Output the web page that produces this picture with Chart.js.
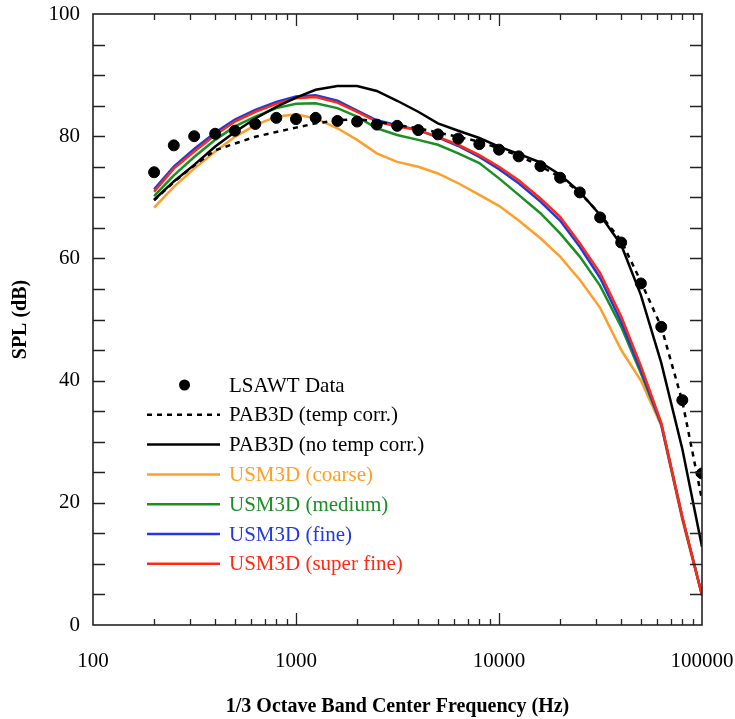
<!DOCTYPE html>
<html lang="en">
  <head>
    <meta charset="utf-8">
    <title>SPL spectrum</title>
    <script src="https://cdn.jsdelivr.net/npm/chart.js@4.4.1/dist/chart.umd.min.js"></script>
    <style>
      body { margin: 0; background: #fff; }
      #wrap { width: 735px; height: 719px; }
    </style>
  </head>
  <body>
    <div id="wrap"><canvas id="splChart" width="735" height="719"></canvas></div>
  <script>
  // 1/3 octave band centres (Hz)
  var freqs = [200, 250, 315, 400, 500, 630, 800, 1000, 1250, 1600, 2000, 2500, 3150, 4000,
               5000, 6300, 8000, 10000, 12500, 16000, 20000, 25000, 31500, 40000, 50000, 63000, 80000, 100000];

  var lsawt     = [74.1, 78.5, 80.0, 80.4, 80.9, 82.0, 83.0, 82.8, 83.0, 82.5, 82.4, 81.9, 81.7, 81.0,
                   80.3, 79.6, 78.7, 77.8, 76.7, 75.1, 73.2, 70.8, 66.7, 62.6, 55.9, 48.8, 36.8, 24.8];
  var pabTemp   = [69.5, 72.5, 75.2, 77.7, 78.8, 79.9, 80.7, 81.4, 82.1, 82.6, 82.8, 82.4, 81.8, 81.3,
                   80.6, 79.9, 79.1, 78.0, 76.8, 75.1, 73.3, 70.8, 67.2, 62.9, 56.2, 48.8, 36.6, 20.5];
  var pabNoTemp = [69.6, 72.6, 75.3, 78.3, 80.7, 82.9, 84.8, 86.3, 87.6, 88.2, 88.2, 87.4, 85.8, 84.0,
                   82.1, 80.9, 79.7, 78.3, 77.1, 75.7, 73.7, 70.9, 67.1, 62.2, 54.0, 42.9, 28.8, 12.8];
  var usmCoarse = [68.3, 71.7, 74.7, 77.5, 79.9, 81.8, 83.2, 83.6, 82.9, 81.3, 79.4, 77.2, 75.8, 75.0,
                   73.9, 72.3, 70.4, 68.6, 66.2, 63.3, 60.3, 56.5, 51.9, 45.0, 40.0, 32.6, 17.2, 4.8];
  var usmMedium = [70.2, 73.6, 76.6, 79.4, 81.6, 83.2, 84.6, 85.3, 85.4, 84.6, 83.2, 81.3, 80.2, 79.4,
                   78.6, 77.2, 75.6, 73.1, 70.4, 67.4, 64.1, 60.3, 55.5, 48.8, 41.2, 32.9, 17.5, 4.9];
  var usmFine   = [71.3, 75.0, 77.9, 80.6, 82.7, 84.3, 85.6, 86.5, 86.7, 85.8, 84.2, 82.6, 81.8, 81.0,
                   79.8, 78.4, 76.6, 74.6, 72.3, 69.3, 66.2, 61.9, 56.8, 49.6, 41.7, 32.8, 17.6, 4.9];
  var usmSuper  = [70.9, 74.7, 77.5, 80.2, 82.4, 84.0, 85.3, 86.2, 86.4, 85.5, 84.0, 82.4, 81.6, 81.0,
                   79.9, 78.6, 76.9, 75.0, 72.8, 69.8, 66.8, 62.5, 57.6, 50.5, 42.4, 33.1, 17.7, 4.9];

  var xLabels = [100, 1000, 10000, 100000];
  var yLabels = [0, 20, 40, 60, 80, 100];

  function pts(ys){
    var out = [];
    for(var i = 0; i < freqs.length; ++i){
      out.push({x: freqs[i], y: ys[i]});
    }
    return out;
  }

  var serif = "'Liberation Serif', 'Times New Roman', serif";

  // inside tick marks on all four sides + frame
  var frameTicks = {
    id: 'frameTicks',
    afterDraw: function(chart){
      var ctx = chart.ctx, a = chart.chartArea;
      var xs = chart.scales.x, ys = chart.scales.y;
      ctx.save();
      ctx.strokeStyle = '#222';
      ctx.lineWidth = 1.3;
      ctx.beginPath();
      for(var v = 5; v < 100; v += 5){
        var py = Math.round(ys.getPixelForValue(v)) + 0.5;
        ctx.moveTo(a.left, py); ctx.lineTo(a.left + 12, py);
        ctx.moveTo(a.right, py); ctx.lineTo(a.right - 12, py);
      }
      for(var d = 100; d < 100000; d *= 10){
        for(var m = 1; m <= 9; ++m){
          if(d === 100 && m === 1) continue;
          var px = Math.round(xs.getPixelForValue(m * d)) + 0.5;
          var len = (m === 1) ? 12 : 6;
          ctx.moveTo(px, a.bottom); ctx.lineTo(px, a.bottom - len);
          ctx.moveTo(px, a.top); ctx.lineTo(px, a.top + len);
        }
      }
      ctx.stroke();
      ctx.lineWidth = 1.6;
      ctx.strokeRect(a.left, a.top, a.right - a.left, a.bottom - a.top);
      ctx.restore();
    }
  };

  // legend drawn inside the plot, lower left
  var innerLegend = {
    id: 'innerLegend',
    afterDatasetsDraw: function(chart){
      var ctx = chart.ctx;
      var sets = chart.data.datasets;
      var x0 = 147, x1 = 220, tx = 229, y = 385, step = 29.8;
      ctx.save();
      ctx.font = "21px " + serif;
      ctx.textBaseline = 'middle';
      ctx.textAlign = 'left';
      for(var i = 0; i < sets.length; ++i){
        var s = sets[i];
        if(s.showLine === false){
          ctx.fillStyle = s.pointBackgroundColor;
          ctx.beginPath();
          ctx.arc((x0 + x1) / 2 + 1, y, 5.5, 0, Math.PI * 2);
          ctx.fill();
        } else {
          ctx.strokeStyle = s.borderColor;
          ctx.lineWidth = s.borderWidth;
          ctx.setLineDash(s.borderDash || []);
          ctx.beginPath();
          ctx.moveTo(x0, y); ctx.lineTo(x1, y);
          ctx.stroke();
          ctx.setLineDash([]);
        }
        ctx.fillStyle = s.textColor;
        ctx.fillText(s.label, tx, y + 1);
        y += step;
      }
      ctx.restore();
    }
  };

  var ctx = document.getElementById('splChart');
  var splChart = new Chart(ctx, {
    type: 'scatter',
    data: {
      datasets: [
        { label: 'LSAWT Data', data: pts(lsawt), showLine: false, pointRadius: 5.5,
          pointBackgroundColor: '#000', pointBorderColor: '#000', textColor: '#000', order: 0 },
        { label: 'PAB3D (temp corr.)', data: pts(pabTemp), showLine: true, borderColor: '#000',
          borderWidth: 2.5, borderDash: [5, 5], pointRadius: 0, textColor: '#000', order: 1 },
        { label: 'PAB3D (no temp corr.)', data: pts(pabNoTemp), showLine: true, borderColor: '#000',
          borderWidth: 2.5, pointRadius: 0, textColor: '#000', order: 2 },
        { label: 'USM3D (coarse)', data: pts(usmCoarse), showLine: true, borderColor: '#ff9f2a',
          borderWidth: 2.5, pointRadius: 0, textColor: '#ff9f2a', order: 6 },
        { label: 'USM3D (medium)', data: pts(usmMedium), showLine: true, borderColor: '#1a8f22',
          borderWidth: 2.5, pointRadius: 0, textColor: '#1a8f22', order: 5 },
        { label: 'USM3D (fine)', data: pts(usmFine), showLine: true, borderColor: '#2238e0',
          borderWidth: 2.5, pointRadius: 0, textColor: '#2238e0', order: 4 },
        { label: 'USM3D (super fine)', data: pts(usmSuper), showLine: true, borderColor: '#ff2a14',
          borderWidth: 2.5, pointRadius: 0, textColor: '#ff2a14', order: 3 }
      ]
    },
    options: {
      responsive: false,
      animation: false,
      layout: { padding: { top: 14, right: 33, left: 0, bottom: 0 } },
      plugins: { legend: { display: false }, tooltip: { enabled: false } },
      elements: { line: { tension: 0 } },
      scales: {
        x: {
          type: 'logarithmic',
          min: 100,
          max: 100000,
          grid: { display: false, drawTicks: false },
          border: { display: false },
          afterBuildTicks: function(scale){
            scale.ticks = xLabels.map(function(v){ return {value: v}; });
          },
          afterFit: function(scale){
            scale.height = 94;
            scale.paddingLeft = 0;
            scale.paddingRight = 0;
          },
          ticks: {
            autoSkip: false,
            maxRotation: 0,
            padding: 24,
            color: '#000',
            font: { family: serif, size: 21 },
            callback: function(v){ return String(v); }
          },
          title: {
            display: true,
            text: '1/3 Octave Band Center Frequency (Hz)',
            color: '#000',
            padding: { top: 10, bottom: 0 },
            font: { family: serif, size: 20, weight: 'bold' }
          }
        },
        y: {
          min: 0,
          max: 100,
          grid: { display: false, drawTicks: false },
          border: { display: false },
          afterBuildTicks: function(scale){
            scale.ticks = yLabels.map(function(v){ return {value: v}; });
          },
          afterFit: function(scale){
            scale.width = 93;
            scale.paddingTop = 0;
            scale.paddingBottom = 0;
          },
          ticks: {
            padding: 13,
            color: '#000',
            font: { family: serif, size: 21 }
          },
          title: {
            display: true,
            text: 'SPL (dB)',
            color: '#000',
            padding: { top: 9, bottom: 0 },
            font: { family: serif, size: 20, weight: 'bold' }
          }
        }
      }
    },
    plugins: [frameTicks, innerLegend]
  });
  </script>
  </body>
</html>
